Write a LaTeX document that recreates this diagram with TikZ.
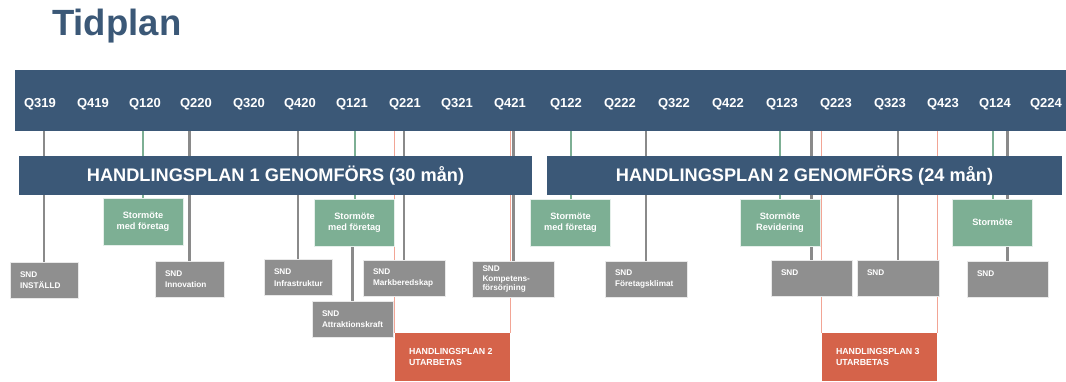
\documentclass[tikz,border=0pt]{standalone}
\usepackage{fontspec}
\setmainfont{Liberation Sans}
\usetikzlibrary{backgrounds}
\definecolor{tidblue}{HTML}{3B5877}
\definecolor{meetgreen}{HTML}{7DAF94}
\definecolor{sndgray}{HTML}{8F8F8F}
\definecolor{linegray}{HTML}{8A8A8A}
\definecolor{planred}{HTML}{D5634A}
\definecolor{planpink}{HTML}{F2A595}
\begin{document}
\begin{tikzpicture}[x=1pt,y=-1pt,
    qlabel/.style={anchor=base,text=white,font=\bfseries\fontsize{13}{15}\selectfont},
    planbar/.style={fill=tidblue,text=white,inner sep=0,minimum height=39pt,
        font=\bfseries\fontsize{18.2}{20}\selectfont},
    meetbox/.style={fill=meetgreen,draw=white!80!meetgreen,line width=.8pt,text=white,
        minimum width=80pt,minimum height=47pt,align=center,inner sep=0,
        font=\bfseries\fontsize{9.2}{10.7}\selectfont},
    sndbox/.style={fill=sndgray,draw=white!80!sndgray,line width=.8pt,text=white,
        text width=61pt,inner xsep=10pt,inner ysep=0,minimum height=36pt,align=flush left,
        font=\bfseries\fontsize{8.2}{11.5}\selectfont},
    redbox/.style={fill=planred,text=white,text width=87pt,inner xsep=14pt,inner ysep=0,
        minimum height=48pt,align=flush left,font=\bfseries\fontsize{8.8}{11}\selectfont},
    gline/.style={draw=linegray,line width=2.6pt},
    mline/.style={draw=meetgreen,line width=2pt},
    pline/.style={draw=planpink,line width=1pt}]
\useasboundingbox (0,0) rectangle (1066,381);
% rubrik
\node[anchor=base west,inner sep=0,text=tidblue,font=\bfseries\fontsize{36.5}{40}\selectfont] (title) at (52,35) {Tidplan};
% kvartal
\node[fill=tidblue,inner sep=0,minimum width=1051pt,minimum height=61pt] (top) at (540.5,100.5) {};
\node[qlabel] (q319) at (40,107) {Q319};
\node[qlabel] (q419) at (93,107) {Q419};
\node[qlabel] (q120) at (145,107) {Q120};
\node[qlabel] (q220) at (196,107) {Q220};
\node[qlabel] (q320) at (249,107) {Q320};
\node[qlabel] (q420) at (300,107) {Q420};
\node[qlabel] (q121) at (352,107) {Q121};
\node[qlabel] (q221) at (405,107) {Q221};
\node[qlabel] (q321) at (457,107) {Q321};
\node[qlabel] (q421) at (510,107) {Q421};
\node[qlabel] (q122) at (566,107) {Q122};
\node[qlabel] (q222) at (620,107) {Q222};
\node[qlabel] (q322) at (674,107) {Q322};
\node[qlabel] (q422) at (728,107) {Q422};
\node[qlabel] (q123) at (782,107) {Q123};
\node[qlabel] (q223) at (836,107) {Q223};
\node[qlabel] (q323) at (890,107) {Q323};
\node[qlabel] (q423) at (943,107) {Q423};
\node[qlabel] (q124) at (995,107) {Q124};
\node[qlabel] (q224) at (1046,107) {Q224};
% handlingsplaner
\node[planbar,minimum width=513pt] (hp1) at (275.5,175.5) {HANDLINGSPLAN 1 GENOMFÖRS (30 mån)};
\node[planbar,minimum width=515pt] (hp2) at (804.5,175.5) {HANDLINGSPLAN 2 GENOMFÖRS (24 mån)};
% stormöten
\node[meetbox] (meet1) at (143,221.5) {Stormöte\\med företag};
\node[meetbox] (meet2) at (354.5,222.5) {Stormöte\\med företag};
\node[meetbox] (meet3) at (570.5,222.5) {Stormöte\\med företag};
\node[meetbox] (meet4) at (780,222.5) {Stormöte\\Revidering};
\node[meetbox] (meet5) at (992.5,222.5) {Stormöte};
% SND
\node[sndbox,text width=48pt] (snd1) at (44,280) {SND\\INSTÄLLD};
\node[sndbox,text width=49pt] (snd2) at (189.5,279) {SND\\Innovation};
\node[sndbox,text width=48pt] (snd3) at (298,277.5) {SND\\Infrastruktur};
\node[sndbox] (attr) at (352.5,319) {SND\\Attraktionskraft};
\node[sndbox,text width=62pt] (snd4) at (404,278) {SND\\Markberedskap};
\node[sndbox,text width=62pt,font=\bfseries\fontsize{8.2}{9.7}\selectfont] (snd5) at (513.5,279) {SND\\Kompetens-\\försörjning};
\node[sndbox,text width=62pt] (snd6) at (646,279) {SND\\Företagsklimat};
\node[sndbox] (snd7) at (811.5,278.5) {SND\\~};
\node[sndbox,text width=62pt] (snd8) at (898,278.5) {SND\\~};
\node[sndbox] (snd9) at (1007.5,279.5) {SND\\~};
% nästa plan utarbetas
\node[redbox] (plan2) at (452.5,357) {HANDLINGSPLAN~2\\UTARBETAS};
\node[redbox] (plan3) at (879.5,357) {HANDLINGSPLAN~3\\UTARBETAS};
\begin{pgfonlayer}{background}
  \draw[pline] (plan2.north west) -- (plan2.north west |- top.south);
  \draw[pline] (plan2.north east) -- (plan2.north east |- top.south);
  \draw[pline] (plan3.north west) -- (plan3.north west |- top.south);
  \draw[pline] (plan3.north east) -- (plan3.north east |- top.south);
  \draw[mline] (meet1.north) -- (meet1.north |- top.south);
  \draw[mline] (meet2.north) -- (meet2.north |- top.south);
  \draw[mline] (meet3.north) -- (meet3.north |- top.south);
  \draw[mline] (meet4.north) -- (meet4.north |- top.south);
  \draw[mline] (meet5.north) -- (meet5.north |- top.south);
  \draw[gline] (snd1.north) -- (snd1.north |- top.south);
  \draw[gline] (snd2.north) -- (snd2.north |- top.south);
  \draw[gline] (snd3.north) -- (snd3.north |- top.south);
  \draw[gline] (attr.north) -- (attr.north |- meet2.south);
  \draw[gline] (snd4.north) -- (snd4.north |- top.south);
  \draw[gline] (snd5.north) -- (snd5.north |- top.south);
  \draw[gline] (snd6.north) -- (snd6.north |- top.south);
  \draw[gline] (snd7.north) -- (snd7.north |- top.south);
  \draw[gline] (snd8.north) -- (snd8.north |- top.south);
  \draw[gline] (snd9.north) -- (snd9.north |- top.south);
\end{pgfonlayer}
\end{tikzpicture}
\end{document}
